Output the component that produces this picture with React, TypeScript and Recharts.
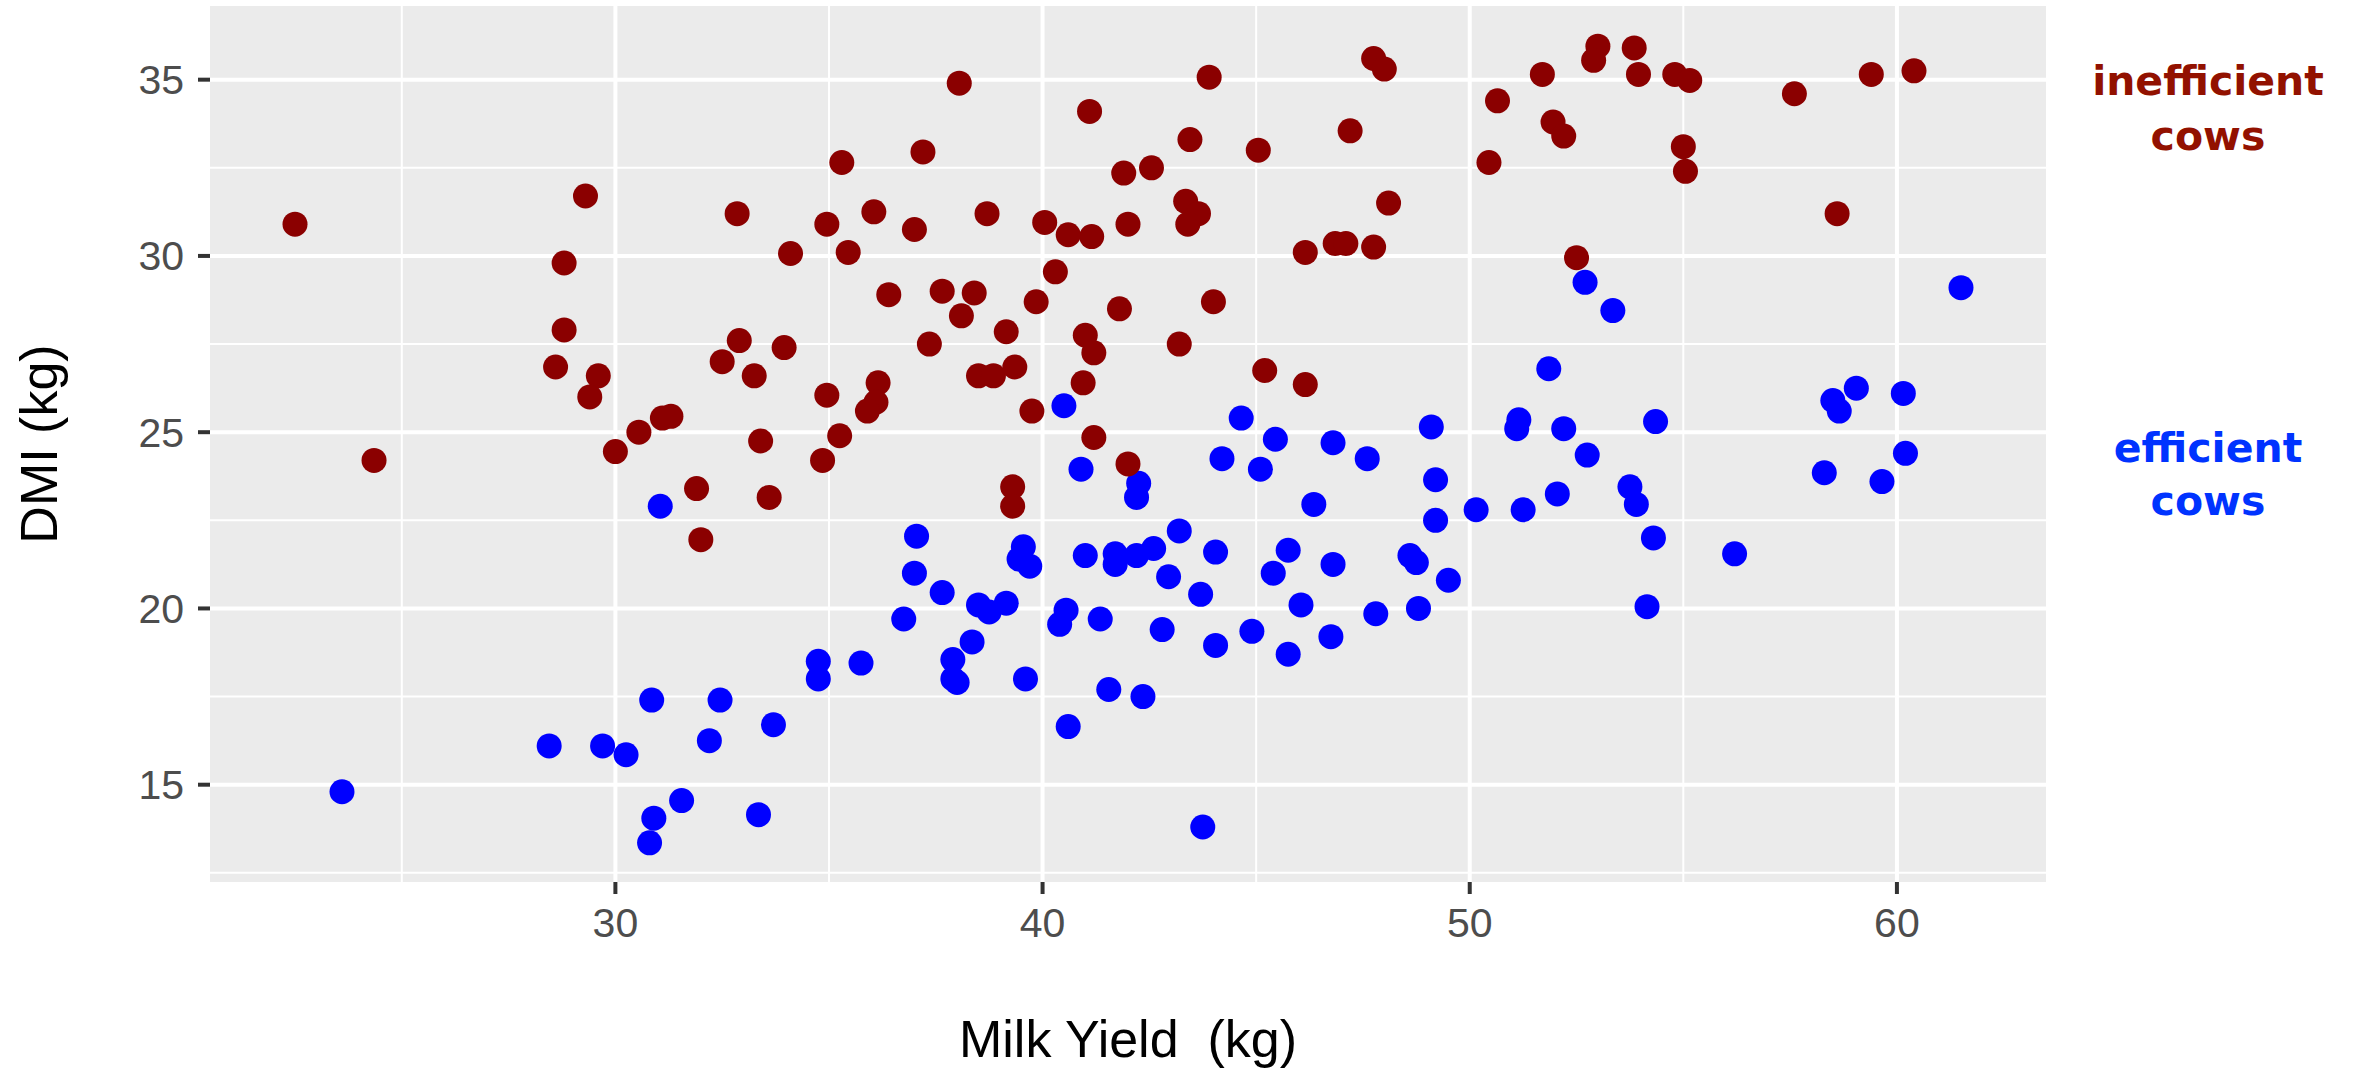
import React from 'react';
import { ScatterChart, Scatter, XAxis, YAxis, CartesianGrid, Customized } from 'recharts';

// inefficient cows (dark red)
const ineffMilk = [
  22.5, 29.3, 28.8, 28.8, 28.6, 29.6, 29.4, 32.85, 34.1, 32.9, 32.5, 33.95, 33.25, 30.55, 31.1, 31.3,
  30.0, 33.4, 24.35, 31.9, 33.6, 32.0, 38.05, 41.1, 43.9, 47.75, 48.0, 47.2, 43.45, 45.05, 37.2, 35.3,
  41.9, 42.55, 43.35, 43.65, 43.4, 48.1, 34.95, 36.05, 37.0, 38.7, 40.05, 40.6, 41.15, 42.0, 35.45, 46.15,
  46.85, 47.1, 47.75, 40.3, 36.4, 37.65, 38.4, 38.1, 39.85, 41.8, 44.0, 39.15, 37.35, 41.0, 41.2, 43.2,
  34.95, 36.15, 36.1, 35.9, 38.5, 38.85, 39.35, 40.95, 45.2, 46.15, 35.25, 39.75, 41.2, 34.85, 42.0, 39.3,
  39.3, 53.0, 52.9, 53.85, 51.7, 53.95, 54.8, 55.15, 57.6, 59.4, 60.4, 50.65, 51.95, 52.2, 50.45, 55.0,
  55.05, 58.6, 52.5,
];
const ineffDmi = [
  30.9, 31.7, 29.8, 27.9, 26.85, 26.6, 26.0, 31.2, 30.07, 27.6, 27.0, 27.4, 26.6, 25.0, 25.4, 25.45,
  24.45, 24.75, 24.2, 23.4, 23.15, 21.95, 34.9, 34.1, 35.07, 35.6, 35.3, 33.55, 33.3, 33.0, 32.95, 32.65,
  32.35, 32.5, 31.55, 31.2, 30.9, 31.5, 30.9, 31.25, 30.75, 31.2, 30.95, 30.6, 30.55, 30.9, 30.1, 30.1,
  30.35, 30.35, 30.25, 29.55, 28.9, 29.0, 28.95, 28.3, 28.7, 28.5, 28.7, 27.85, 27.5, 27.75, 27.25, 27.5,
  26.05, 26.4, 25.85, 25.6, 26.6, 26.6, 26.85, 26.4, 26.75, 26.35, 24.9, 25.6, 24.85, 24.2, 24.1, 23.45,
  22.9, 35.95, 35.55, 35.9, 35.15, 35.15, 35.15, 34.98, 34.6, 35.15, 35.25, 34.4, 33.8, 33.4, 32.65, 33.1,
  32.4, 31.2, 29.95,
];

// efficient cows (blue)
const effMilk = [
  31.05, 30.85, 32.45, 33.7, 32.2, 28.45, 29.7, 30.25, 23.6, 31.55, 30.9, 33.35, 30.8, 40.5, 44.65, 45.45,
  46.8, 40.9, 42.25, 42.2, 44.2, 45.1, 47.6, 46.35, 43.2, 37.05, 37.0, 39.55, 39.45, 39.7, 41.0, 41.7,
  41.7, 42.2, 42.6, 42.95, 44.05, 43.7, 45.75, 45.4, 46.8, 48.6, 48.75, 37.65, 38.5, 38.75, 39.15, 40.55,
  40.4, 41.35, 36.75, 42.8, 44.05, 44.9, 46.05, 45.75, 46.75, 47.8, 48.8, 34.75, 34.75, 35.75, 38.35, 37.9,
  37.9, 38.0, 39.6, 41.55, 42.35, 40.6, 43.75, 52.7, 53.35, 61.5, 51.85, 49.1, 51.15, 51.1, 52.2, 54.35,
  59.05, 58.5, 58.65, 60.15, 52.75, 60.2, 58.3, 59.65, 49.2, 52.05, 53.75, 53.9, 50.15, 51.25, 49.2, 54.3,
  56.2, 49.5, 54.15,
];
const effDmi = [
  22.9, 17.4, 17.4, 16.7, 16.25, 16.1, 16.1, 15.85, 14.8, 14.55, 14.05, 14.15, 13.35, 25.75, 25.4, 24.8,
  24.7, 23.95, 23.55, 23.15, 24.25, 23.95, 24.25, 22.95, 22.2, 22.05, 21.0, 21.75, 21.4, 21.2, 21.5, 21.55,
  21.25, 21.5, 21.7, 20.9, 21.6, 20.4, 21.65, 21.0, 21.25, 21.5, 21.3, 20.45, 20.1, 19.9, 20.15, 19.95,
  19.55, 19.7, 19.7, 19.4, 18.95, 19.35, 20.1, 18.7, 19.2, 19.85, 20.0, 18.5, 18.0, 18.45, 19.05, 18.55,
  18.0, 17.9, 18.0, 17.7, 17.5, 16.65, 13.8, 29.25, 28.45, 29.1, 26.8, 25.15, 25.35, 25.1, 25.1, 25.3,
  26.25, 25.9, 25.6, 26.1, 24.35, 24.4, 23.85, 23.6, 23.65, 23.25, 23.45, 22.95, 22.8, 22.8, 22.5, 22.0,
  21.55, 20.8, 20.05,
];

const xTicks = [30, 40, 50, 60];
const yTicks = [15, 20, 25, 30, 35];
const xMinor = [25, 35, 45, 55];
const yMinor = [12.5, 17.5, 22.5, 27.5, 32.5];

const inefficient = ineffMilk.map((x, i) => ({ x, y: ineffDmi[i] }));
const efficient = effMilk.map((x, i) => ({ x, y: effDmi[i] }));

const sans = '"Liberation Sans", Arial, sans-serif';
const tickStyle = { fill: '#4D4D4D', fontSize: 41, fontFamily: sans };
const tickLine = { stroke: '#333333', strokeWidth: 4 };

const dot = (fill: string) => (props: any) => (
  <circle cx={props.cx} cy={props.cy} r={12.5} fill={fill} />
);

const XTitle = ({ viewBox }: any) => (
  <text
    x={viewBox.x + viewBox.width / 2}
    y={viewBox.y + viewBox.height + 115}
    textAnchor="middle"
    fontSize={52}
    fontFamily={sans}
    fill="#000"
    style={{ whiteSpace: 'pre' }}
  >
    Milk Yield  (kg)
  </text>
);

const YTitle = ({ viewBox }: any) => {
  const x = viewBox.x - 73;
  const y = viewBox.y + viewBox.height / 2;
  return (
    <text x={x} y={y} transform={`rotate(-90 ${x} ${y})`} textAnchor="middle" fontSize={52} fontFamily={sans} fill="#000">
      DMI (kg)
    </text>
  );
};

// group labels to the right of the panel
const GroupLabels = () => {
  const font = { fontFamily: '"DejaVu Sans", Verdana, sans-serif', fontWeight: 700, fontSize: 41 };
  return (
    <g textAnchor="middle">
      <text x={2208} y={95} fill="#921100" {...font}>inefficient</text>
      <text x={2208} y={150} fill="#921100" {...font}>cows</text>
      <text x={2208} y={462} fill="#0033FF" {...font}>efficient</text>
      <text x={2208} y={515} fill="#0033FF" {...font}>cows</text>
    </g>
  );
};

export default function App() {
  return (
    <div style={{ position: 'absolute', left: 0, top: 0 }}>
      <ScatterChart width={2359} height={1068} margin={{ top: 6, right: 313, bottom: 126, left: 130 }}>
        <CartesianGrid fill="#EBEBEB" stroke="#FFFFFF" strokeWidth={2} horizontalValues={yMinor} verticalValues={xMinor} />
        <CartesianGrid fill="none" stroke="#FFFFFF" strokeWidth={4} horizontalValues={yTicks} verticalValues={xTicks} />
        <XAxis
          type="number"
          dataKey="x"
          domain={[20.51, 63.49]}
          ticks={xTicks}
          allowDataOverflow
          height={60}
          axisLine={false}
          tickSize={12}
          tickMargin={14}
          tickLine={tickLine}
          tick={tickStyle}
          label={<XTitle />}
        />
        <YAxis
          type="number"
          dataKey="y"
          domain={[12.24, 37.09]}
          ticks={yTicks}
          allowDataOverflow
          width={80}
          axisLine={false}
          tickSize={12}
          tickMargin={14}
          tickLine={tickLine}
          tick={tickStyle}
          label={<YTitle />}
        />
        <Scatter data={efficient} shape={dot('#0000FF')} isAnimationActive={false} />
        <Scatter data={inefficient} shape={dot('#8B0000')} isAnimationActive={false} />
        <Customized component={GroupLabels} />
      </ScatterChart>
    </div>
  );
}
